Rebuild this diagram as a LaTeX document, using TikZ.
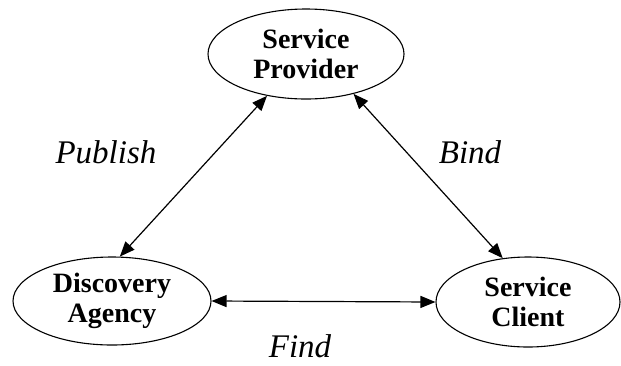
\documentclass[tikz,border=0pt]{standalone}
\usepackage{fontspec}
\setmainfont{Liberation Serif}
\usetikzlibrary{shapes.geometric,arrows.meta}
\tikzset{
  role/.style={ellipse, draw, line width=1.1pt, inner sep=0pt,
    align=center, font=\fontsize{28}{30}\selectfont\bfseries},
  link/.style={line width=1.2pt, {Triangle[length=15pt,width=12pt]}-{Triangle[length=15pt,width=12pt]}},
  verb/.style={font=\fontsize{33}{36}\selectfont\itshape, anchor=base, inner sep=0pt}
}
\begin{document}
\begin{tikzpicture}[x=1pt,y=-1pt]
  \useasboundingbox (0,0) rectangle (621,365);
  \node[role, minimum width=196pt, minimum height=90pt] (sp) at (306,54) {Service\\Provider};
  \node[role, minimum width=198pt, minimum height=88pt] (da) at (112,301) {Discovery\\Agency};
  \node[role, minimum width=184pt, minimum height=90pt] (sc) at (528,302) {Service\\Client};
  \draw[link] (sp.227) -- (da.80);
  \draw[link] (sp.320) -- (sc.120);
  \draw[link] (da.east) -- (sc.west);
  \node[verb] (pub) at (106,163) {Publish};
  \node[verb] (bnd) at (470,163) {Bind};
  \node[verb] (fnd) at (300,357) {Find};
\end{tikzpicture}
\end{document}
